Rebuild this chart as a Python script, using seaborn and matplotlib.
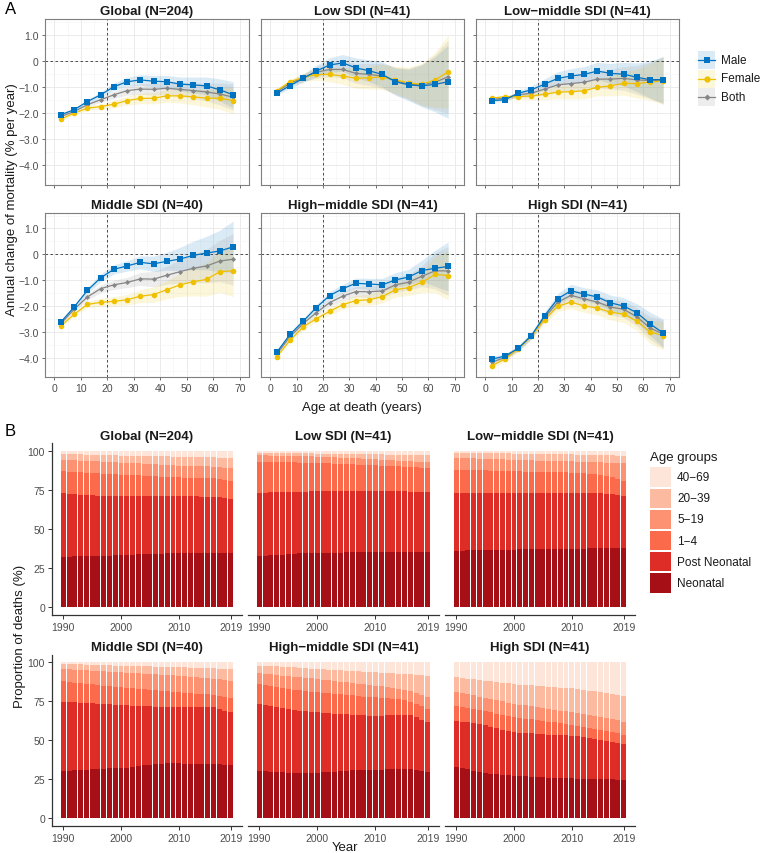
import numpy as np
import pandas as pd
import matplotlib
matplotlib.use("Agg")
import matplotlib.pyplot as plt
import seaborn as sns
from matplotlib.patches import Rectangle

plt.rcParams['font.family'] = ['Liberation Sans', 'DejaVu Sans']

# ---------------- DATA: panel A ----------------
AGE = [2.5, 7.5, 12.5, 17.5, 22.5, 27.5, 32.5, 37.5, 42.5, 47.5, 52.5, 57.5, 62.5, 67.5]
REGIONS = ['Global (N=204)', 'Low SDI (N=41)', 'Low\u2212middle SDI (N=41)',
           'Middle SDI (N=40)', 'High\u2212middle SDI (N=41)', 'High SDI (N=41)']
SEXES = ['Male', 'Female', 'Both']

G_MALE = [-2.06, -1.87, -1.56, -1.30, -0.99, -0.80, -0.73, -0.78, -0.80, -0.89, -0.92, -0.96, -1.11, -1.30]
G_FEMALE = [-2.23, -2.00, -1.81, -1.75, -1.66, -1.52, -1.44, -1.43, -1.34, -1.34, -1.38, -1.43, -1.43, -1.52]
G_BOTH = [-2.13, -1.94, -1.68, -1.49, -1.30, -1.14, -1.08, -1.09, -1.05, -1.09, -1.14, -1.19, -1.27, -1.39]
G_HW = [0.05, 0.06, 0.08, 0.10, 0.14, 0.17, 0.20, 0.22, 0.24, 0.27, 0.30, 0.34, 0.42, 0.50]

L_MALE = [-1.24, -0.95, -0.67, -0.39, -0.16, -0.08, -0.27, -0.38, -0.52, -0.80, -0.92, -0.96, -0.90, -0.80]
L_FEMALE = [-1.14, -0.80, -0.63, -0.52, -0.52, -0.58, -0.67, -0.65, -0.61, -0.73, -0.84, -0.90, -0.73, -0.42]
L_BOTH = [-1.18, -0.86, -0.65, -0.44, -0.33, -0.33, -0.48, -0.52, -0.58, -0.77, -0.89, -0.92, -0.82, -0.61]
L_HW = [0.08, 0.10, 0.15, 0.22, 0.28, 0.32, 0.38, 0.42, 0.48, 0.52, 0.60, 0.80, 1.05, 1.40]

LM_MALE = [-1.52, -1.49, -1.24, -1.11, -0.89, -0.67, -0.58, -0.52, -0.39, -0.48, -0.51, -0.63, -0.72, -0.72]
LM_FEMALE = [-1.43, -1.37, -1.37, -1.34, -1.28, -1.20, -1.18, -1.15, -1.01, -0.96, -0.86, -0.87, -0.81, -0.77]
LM_BOTH = [-1.47, -1.43, -1.30, -1.24, -1.08, -0.92, -0.87, -0.82, -0.70, -0.70, -0.67, -0.73, -0.75, -0.75]
LM_HW = [0.05, 0.07, 0.10, 0.15, 0.20, 0.25, 0.28, 0.30, 0.33, 0.38, 0.45, 0.55, 0.70, 0.90]

M_MALE = [-2.62, -2.04, -1.40, -0.91, -0.58, -0.45, -0.31, -0.37, -0.27, -0.18, -0.04, 0.05, 0.13, 0.29]
M_FEMALE = [-2.77, -2.32, -1.94, -1.86, -1.82, -1.76, -1.62, -1.56, -1.37, -1.18, -1.06, -0.97, -0.67, -0.64]
M_BOTH = [-2.68, -2.13, -1.65, -1.33, -1.18, -1.09, -0.95, -0.96, -0.81, -0.67, -0.54, -0.45, -0.26, -0.19]
M_HW = [0.05, 0.08, 0.12, 0.15, 0.18, 0.20, 0.25, 0.30, 0.35, 0.45, 0.55, 0.65, 0.80, 1.00]

HM_MALE = [-3.79, -3.10, -2.59, -2.06, -1.60, -1.33, -1.12, -1.15, -1.18, -0.99, -0.88, -0.63, -0.54, -0.47]
HM_FEMALE = [-3.96, -3.33, -2.81, -2.49, -2.21, -1.95, -1.79, -1.76, -1.64, -1.37, -1.29, -1.08, -0.78, -0.82]
HM_BOTH = [-3.86, -3.19, -2.68, -2.26, -1.87, -1.62, -1.44, -1.45, -1.42, -1.18, -1.08, -0.85, -0.64, -0.64]
HM_HW = [0.05, 0.08, 0.10, 0.12, 0.15, 0.17, 0.20, 0.22, 0.25, 0.28, 0.30, 0.40, 0.70, 0.95]

H_MALE = [-4.06, -3.94, -3.64, -3.15, -2.38, -1.72, -1.41, -1.54, -1.65, -1.88, -2.00, -2.26, -2.69, -3.05]
H_FEMALE = [-4.31, -4.05, -3.66, -3.17, -2.53, -2.01, -1.85, -2.00, -2.08, -2.24, -2.32, -2.59, -3.00, -3.15]
H_BOTH = [-4.18, -3.99, -3.65, -3.16, -2.45, -1.85, -1.59, -1.72, -1.85, -2.04, -2.13, -2.42, -2.85, -3.09]
H_HW = [0.10, 0.10, 0.10, 0.12, 0.15, 0.20, 0.25, 0.25, 0.27, 0.30, 0.32, 0.35, 0.45, 0.55]

A_VALUES = {
    REGIONS[0]: (G_MALE, G_FEMALE, G_BOTH, G_HW),
    REGIONS[1]: (L_MALE, L_FEMALE, L_BOTH, L_HW),
    REGIONS[2]: (LM_MALE, LM_FEMALE, LM_BOTH, LM_HW),
    REGIONS[3]: (M_MALE, M_FEMALE, M_BOTH, M_HW),
    REGIONS[4]: (HM_MALE, HM_FEMALE, HM_BOTH, HM_HW),
    REGIONS[5]: (H_MALE, H_FEMALE, H_BOTH, H_HW),
}

# ---------------- DATA: panel B (cumulative % of deaths, stacked from bottom) ----------------
YEARS = list(range(1990, 2020))
AGE_GROUPS = ['40\u221269', '20\u221239', '5\u221219', '1\u22124', 'Post Neonatal', 'Neonatal']

G_NEO = [32.5,32.5,32.6,32.7,32.8,32.9,33.0,33.1,33.2,33.3,33.4,33.6,33.8,34.0,34.1,34.2,34.3,34.4,34.5,34.5,34.6,34.6,34.6,34.6,34.6,34.6,34.6,34.6,34.6,34.6]
G_POST = [73.0,72.8,72.6,72.3,72.0,71.8,71.6,71.5,71.4,71.3,71.2,71.2,71.2,71.2,71.2,71.2,71.2,71.2,71.2,71.2,71.2,71.2,71.1,71.1,71.0,71.0,71.0,70.8,70.0,69.4]
G_1_4 = [87.2,87.0,86.8,86.6,86.4,86.1,85.9,85.6,85.4,85.2,85.0,84.8,84.6,84.5,84.3,84.1,84.0,83.8,83.6,83.4,83.3,83.2,83.1,83.0,82.9,82.8,82.6,82.2,81.6,81.2]
G_5_19 = [94.7,94.5,94.3,94.1,93.9,93.7,93.5,93.3,93.1,93.0,92.8,92.6,92.4,92.2,92.0,91.8,91.6,91.4,91.2,91.0,90.8,90.7,90.6,90.5,90.4,90.3,90.1,89.9,89.6,89.3]
G_20_39 = [98.3,98.2,98.1,98.0,97.9,97.8,97.7,97.6,97.5,97.4,97.3,97.2,97.2,97.1,97.0,96.9,96.9,96.8,96.7,96.6,96.6,96.5,96.4,96.3,96.3,96.2,96.1,96.0,95.9,95.7]

L_NEO = [33.0,33.1,33.3,33.5,33.8,34.1,34.4,34.6,34.8,34.9,35.0,35.0,35.1,35.1,35.1,35.2,35.2,35.2,35.3,35.3,35.3,35.3,35.4,35.4,35.4,35.4,35.5,35.5,35.5,35.5]
L_POST = [73.4,73.5,73.6,73.7,73.8,73.9,74.0,74.1,74.2,74.4,74.5,74.6,74.6,74.7,74.7,74.7,74.7,74.7,74.6,74.6,74.5,74.5,74.4,74.4,74.3,74.3,74.2,74.1,74.0,74.0]
L_1_4 = [93.4,93.4,93.3,93.2,93.1,93.0,92.9,92.8,92.7,92.6,92.5,92.4,92.3,92.1,92.0,91.9,91.7,91.5,91.3,91.1,91.0,90.8,90.6,90.5,90.3,90.1,90.0,89.8,89.6,89.5]
L_5_19 = [97.4,97.4,97.3,97.3,97.2,97.1,97.0,96.9,96.8,96.7,96.6,96.5,96.3,96.1,96.0,95.8,95.6,95.4,95.2,95.0,94.8,94.6,94.4,94.2,94.0,93.8,93.6,93.4,93.2,93.1]
L_20_39 = [98.9,98.9,98.9,98.8,98.8,98.8,98.7,98.7,98.6,98.6,98.5,98.5,98.4,98.4,98.3,98.3,98.2,98.2,98.1,98.1,98.0,98.0,97.9,97.9,97.8,97.7,97.6,97.5,97.4,97.4]

LM_NEO = [36.3,36.4,36.5,36.6,36.7,36.8,36.8,36.9,36.9,37.0,37.0,37.1,37.1,37.2,37.2,37.3,37.3,37.4,37.4,37.5,37.5,37.6,37.6,37.7,37.7,37.7,37.8,37.8,37.8,37.8]
LM_POST = [73.0,73.0,73.1,73.1,73.2,73.2,73.3,73.3,73.4,73.4,73.4,73.5,73.5,73.5,73.5,73.4,73.4,73.4,73.3,73.3,73.2,73.2,73.1,73.1,73.0,73.0,72.8,72.4,71.8,71.2]
LM_1_4 = [88.2,88.1,88.0,87.9,87.8,87.7,87.6,87.5,87.4,87.3,87.2,87.1,87.0,86.9,86.8,86.7,86.6,86.6,86.5,86.5,86.4,86.2,86.0,85.7,85.4,85.0,84.4,83.5,82.3,81.2]
LM_5_19 = [95.7,95.6,95.5,95.4,95.3,95.2,95.1,95.0,94.8,94.7,94.6,94.5,94.4,94.2,94.1,94.0,93.9,93.8,93.7,93.6,93.5,93.4,93.3,93.2,93.1,93.0,92.8,92.7,92.5,92.3]
LM_20_39 = [98.9,98.9,98.9,98.8,98.8,98.8,98.7,98.7,98.6,98.6,98.5,98.5,98.4,98.4,98.3,98.3,98.2,98.2,98.1,98.0,98.0,97.9,97.8,97.8,97.7,97.6,97.5,97.4,97.3,97.2]

M_NEO = [30.4,30.5,30.7,30.9,31.1,31.3,31.5,31.7,31.9,32.0,32.1,32.4,32.8,33.3,33.8,34.3,34.6,34.9,35.1,35.1,35.1,35.0,35.0,34.9,34.9,34.8,34.7,34.6,34.4,34.3]
M_POST = [74.7,74.5,74.2,74.0,73.8,73.6,73.4,73.2,73.0,72.8,72.6,72.4,72.2,72.1,71.9,71.8,71.6,71.5,71.3,71.2,71.1,71.1,71.0,71.0,71.0,71.0,71.0,70.2,68.9,67.8]
M_1_4 = [87.8,87.4,87.0,86.6,86.2,85.8,85.4,85.0,84.6,84.2,83.9,83.6,83.2,82.9,82.6,82.3,82.0,81.6,81.3,81.0,80.7,80.4,80.1,79.8,79.6,79.4,79.1,78.6,77.9,77.3]
M_5_19 = [95.7,95.5,95.3,95.1,94.9,94.7,94.5,94.2,94.0,93.8,93.5,93.3,93.1,92.9,92.7,92.5,92.3,92.0,91.8,91.6,91.4,91.1,90.8,90.5,90.2,89.9,89.5,89.0,88.5,88.0]
M_20_39 = [98.9,98.8,98.7,98.6,98.5,98.4,98.3,98.2,98.1,97.9,97.8,97.7,97.6,97.5,97.4,97.3,97.2,97.1,97.0,96.9,96.8,96.7,96.6,96.5,96.4,96.3,96.1,96.0,95.8,95.7]

HM_NEO = [30.2,30.0,29.8,29.5,29.3,29.1,28.9,28.8,28.7,28.8,29.0,29.3,29.6,29.9,30.2,30.4,30.6,30.7,30.8,30.9,31.0,31.1,31.2,31.2,31.3,31.3,31.2,30.8,30.3,29.8]
HM_POST = [73.2,72.6,72.0,71.3,70.6,70.0,69.5,69.0,68.6,68.2,67.9,67.6,67.3,67.0,66.7,66.5,66.3,66.1,65.9,65.8,65.7,65.8,65.9,66.0,66.1,66.2,65.9,64.7,63.1,61.5]
HM_1_4 = [85.9,85.3,84.7,84.1,83.5,82.9,82.4,81.9,81.5,81.1,80.7,80.4,80.1,79.8,79.5,79.2,78.8,78.4,78.0,77.7,77.5,77.2,76.9,76.6,76.2,75.6,74.8,73.5,71.8,70.0]
HM_5_19 = [93.1,92.7,92.3,91.9,91.5,91.1,90.7,90.3,89.9,89.6,89.3,88.9,88.5,88.1,87.6,87.2,86.8,86.3,85.8,85.4,85.0,84.6,84.2,83.7,83.1,82.4,81.5,80.3,78.9,77.5]
HM_20_39 = [97.9,97.7,97.5,97.3,97.1,96.9,96.7,96.5,96.3,96.0,95.7,95.5,95.3,95.1,94.9,94.7,94.5,94.2,94.0,93.8,93.6,93.4,93.2,93.0,92.8,92.6,92.3,92.0,91.7,91.4]

H_NEO = [33.0,32.2,31.3,30.5,29.8,29.2,28.6,28.1,27.7,27.4,27.2,27.0,26.8,26.6,26.4,26.2,26.0,25.9,25.7,25.6,25.5,25.4,25.3,25.2,25.1,25.0,24.9,24.8,24.7,24.6]
H_POST = [62.5,62.0,61.4,60.8,60.1,59.5,58.6,57.7,56.8,56.0,55.2,54.9,54.6,54.3,54.0,53.8,53.6,53.4,53.2,53.1,53.0,52.5,52.0,51.4,50.8,50.2,49.6,48.9,48.2,47.5]
H_1_4 = [72.2,71.5,70.8,70.1,69.3,68.5,67.8,67.1,66.4,65.6,64.9,64.4,63.9,63.4,62.9,62.4,61.9,61.4,60.9,60.4,60.0,59.4,58.7,58.0,57.3,56.6,55.9,55.1,54.3,53.5]
H_5_19 = [81.2,80.4,79.6,78.8,77.9,77.0,76.3,75.6,74.9,74.1,73.4,72.8,72.3,71.7,71.2,70.6,70.1,69.5,69.0,68.5,68.0,67.4,66.8,66.2,65.6,65.0,64.4,63.6,62.8,62.0]
H_20_39 = [90.4,90.0,89.5,89.1,88.6,88.2,87.8,87.3,86.9,86.4,86.0,85.7,85.5,85.2,84.9,84.7,84.4,84.1,83.8,83.6,83.3,82.8,82.3,81.8,81.3,80.8,80.2,79.6,78.9,78.2]

TOTAL = [100.0] * 30

B_VALUES = {
    REGIONS[0]: (TOTAL, G_20_39, G_5_19, G_1_4, G_POST, G_NEO),
    REGIONS[1]: (TOTAL, L_20_39, L_5_19, L_1_4, L_POST, L_NEO),
    REGIONS[2]: (TOTAL, LM_20_39, LM_5_19, LM_1_4, LM_POST, LM_NEO),
    REGIONS[3]: (TOTAL, M_20_39, M_5_19, M_1_4, M_POST, M_NEO),
    REGIONS[4]: (TOTAL, HM_20_39, HM_5_19, HM_1_4, HM_POST, HM_NEO),
    REGIONS[5]: (TOTAL, H_20_39, H_5_19, H_1_4, H_POST, H_NEO),
}

# ---------------- STYLE ----------------
SEX_COLORS = {'Male': '#0073C2', 'Female': '#EFC000', 'Both': '#868686'}
SEX_MARKERS = {'Male': ('s', 4.0), 'Female': ('o', 4.0), 'Both': ('D', 2.6)}
REDS = ['#FEE5D9', '#FCBBA1', '#FC9272', '#FB6A4A', '#DE2D26', '#A50F15']
TXT = '#4D4D4D'
W, H = 761, 854

fig = plt.figure(figsize=(W / 100, H / 100), dpi=100)
fig.patch.set_facecolor('white')


def ax_at(l, t, r, b):
    return fig.add_axes([l / W, 1 - b / H, (r - l) / W, (b - t) / H])


def ylab(v):
    if v == 0:
        return '0'
    s = f'{abs(v):.1f}'
    return ('\u2212' + s) if v < 0 else s


# ---------------- PANEL A ----------------
A_COLS = [(45, 249), (261, 464), (476, 679)]
A_ROWS = [(20, 186), (214, 378)]
age = np.array(AGE)
for i, reg in enumerate(REGIONS):
    row, col = divmod(i, 3)
    ax = ax_at(A_COLS[col][0], A_ROWS[row][0], A_COLS[col][1], A_ROWS[row][1])
    male, female, both, hw = A_VALUES[reg]
    hw = np.array(hw)
    series = {'Male': male, 'Female': female, 'Both': both}
    for sex in ['Male', 'Female', 'Both']:
        y = np.array(series[sex])
        ax.fill_between(age, y - hw, y + hw, color=SEX_COLORS[sex], alpha=0.14, lw=0, zorder=1)
    for sex in ['Both', 'Female', 'Male']:
        mk, ms = SEX_MARKERS[sex]
        sns.lineplot(x=age, y=np.array(series[sex]), ax=ax, color=SEX_COLORS[sex], marker=mk,
                     markersize=ms, markeredgewidth=0, linewidth=0.9, zorder=3)
    ax.axhline(0, ls=(0, (3, 3)), color='#333333', lw=0.6, zorder=2)
    ax.axvline(20, ls=(0, (3, 3)), color='#333333', lw=0.6, zorder=2)
    ax.set_xlim(-3.5, 73.5)
    ax.set_ylim(-4.75, 1.6)
    ax.set_xticks(range(0, 71, 10))
    ax.set_xticks(range(5, 71, 10), minor=True)
    yt = [1.0, 0.0, -1.0, -2.0, -3.0, -4.0]
    ax.set_yticks(yt)
    ax.set_yticks([1.5, 0.5, -0.5, -1.5, -2.5, -3.5, -4.5], minor=True)
    ax.grid(which='major', color='#EBEBEB', lw=0.7)
    ax.grid(which='minor', color='#F3F3F3', lw=0.4)
    ax.set_axisbelow(True)
    for sp in ax.spines.values():
        sp.set_color('#7F7F7F')
        sp.set_linewidth(0.8)
    ax.tick_params(which='major', length=2.5, width=0.6, color='#555555', labelsize=7.5,
                   labelcolor=TXT, pad=2)
    ax.tick_params(which='minor', length=0)
    if col == 0:
        ax.set_yticklabels([ylab(v) for v in yt])
    else:
        ax.set_yticklabels([])
    if row == 1:
        ax.set_xticklabels([str(v) for v in range(0, 71, 10)])
    else:
        ax.set_xticklabels([])
    ax.set_xlabel('')
    ax.set_ylabel('')
    ax.set_title(reg, fontsize=9.5, fontweight='bold', pad=3.5, color='#1A1A1A')

# ---------------- PANEL B ----------------
B_COLS = [(52, 242), (248, 439), (445, 635)]
B_ROWS = [(444.5, 616.1), (655.5, 826.9)]
years = np.array(YEARS)
for i, reg in enumerate(REGIONS):
    row, col = divmod(i, 3)
    ax = ax_at(B_COLS[col][0], B_ROWS[row][0], B_COLS[col][1], B_ROWS[row][1])
    for cum, color in zip(B_VALUES[reg], REDS):
        sns.barplot(x=years, y=np.array(cum), native_scale=True, width=0.86, color=color,
                    saturation=1, linewidth=0, errorbar=None, ax=ax)
    ax.set_xlim(1988.05, 2020.95)
    ax.set_ylim(-5, 105)
    ax.set_xticks([1990, 2000, 2010, 2019])
    ax.set_xticklabels(['1990', '2000', '2010', '2019'])
    ax.set_yticks([0, 25, 50, 75, 100])
    ax.set_xlabel('')
    ax.set_ylabel('')
    ax.grid(False)
    ax.set_facecolor('white')
    ax.spines['top'].set_visible(False)
    ax.spines['right'].set_visible(False)
    ax.spines['bottom'].set_color('#333333')
    ax.spines['bottom'].set_linewidth(0.9)
    ax.spines['left'].set_color('#333333')
    ax.spines['left'].set_linewidth(0.9)
    ax.tick_params(length=3, width=0.7, color='#333333', labelsize=7.5, labelcolor=TXT, pad=2)
    if col == 0:
        ax.set_yticklabels(['0', '25', '50', '75', '100'])
    else:
        ax.spines['left'].set_visible(False)
        ax.tick_params(axis='y', left=False, labelleft=False)
    ax.set_title(reg, fontsize=9.5, fontweight='bold', pad=3.5, color='#1A1A1A')

# ---------------- TEXT, LABELS & LEGENDS ----------------
fig.text(5 / W, 1 - 10 / H, 'A', fontsize=12, va='center', ha='left')
fig.text(5 / W, 1 - 432 / H, 'B', fontsize=12, va='center', ha='left')
fig.text(12 / W, 1 - 200 / H, 'Annual change of mortality (% per year)', rotation=90,
         fontsize=9.5, ha='center', va='center', color='#1A1A1A')
fig.text(362 / W, 1 - 408 / H, 'Age at death (years)', fontsize=9.5, ha='center', va='center',
         color='#1A1A1A')
fig.text(20 / W, 1 - 636 / H, 'Proportion of deaths (%)', rotation=90, fontsize=9.5,
         ha='center', va='center', color='#1A1A1A')
fig.text(345 / W, 1 - 848 / H, 'Year', fontsize=9.5, ha='center', va='center', color='#1A1A1A')

leg_ax = fig.add_axes([0, 0, 1, 1], zorder=5)
leg_ax.set_xlim(0, W)
leg_ax.set_ylim(H, 0)
leg_ax.axis('off')

# legend A
for k, sex in enumerate(SEXES):
    yc = 61 + k * 18.5
    leg_ax.add_patch(Rectangle((698, yc - 9), 17, 18, facecolor=SEX_COLORS[sex], alpha=0.14, lw=0))
    mk, ms = SEX_MARKERS[sex]
    leg_ax.plot([698, 715], [yc, yc], color=SEX_COLORS[sex], lw=0.9)
    leg_ax.plot([706.5], [yc], marker=mk, markersize=ms + 0.5, color=SEX_COLORS[sex], markeredgewidth=0)
    leg_ax.text(721, yc, sex, fontsize=8.5, va='center', ha='left', color='#1A1A1A')

# legend B
leg_ax.text(650, 458, 'Age groups', fontsize=9.5, va='center', ha='left', color='#1A1A1A')
for k, (grp, color) in enumerate(zip(AGE_GROUPS, REDS)):
    yc = 478 + k * 21.2
    leg_ax.add_patch(Rectangle((650, yc - 9.7), 20.5, 19.4, facecolor=color, lw=0))
    leg_ax.text(677, yc, grp, fontsize=8.5, va='center', ha='left', color='#1A1A1A')

fig.savefig('out.png', dpi=100, facecolor='white')
